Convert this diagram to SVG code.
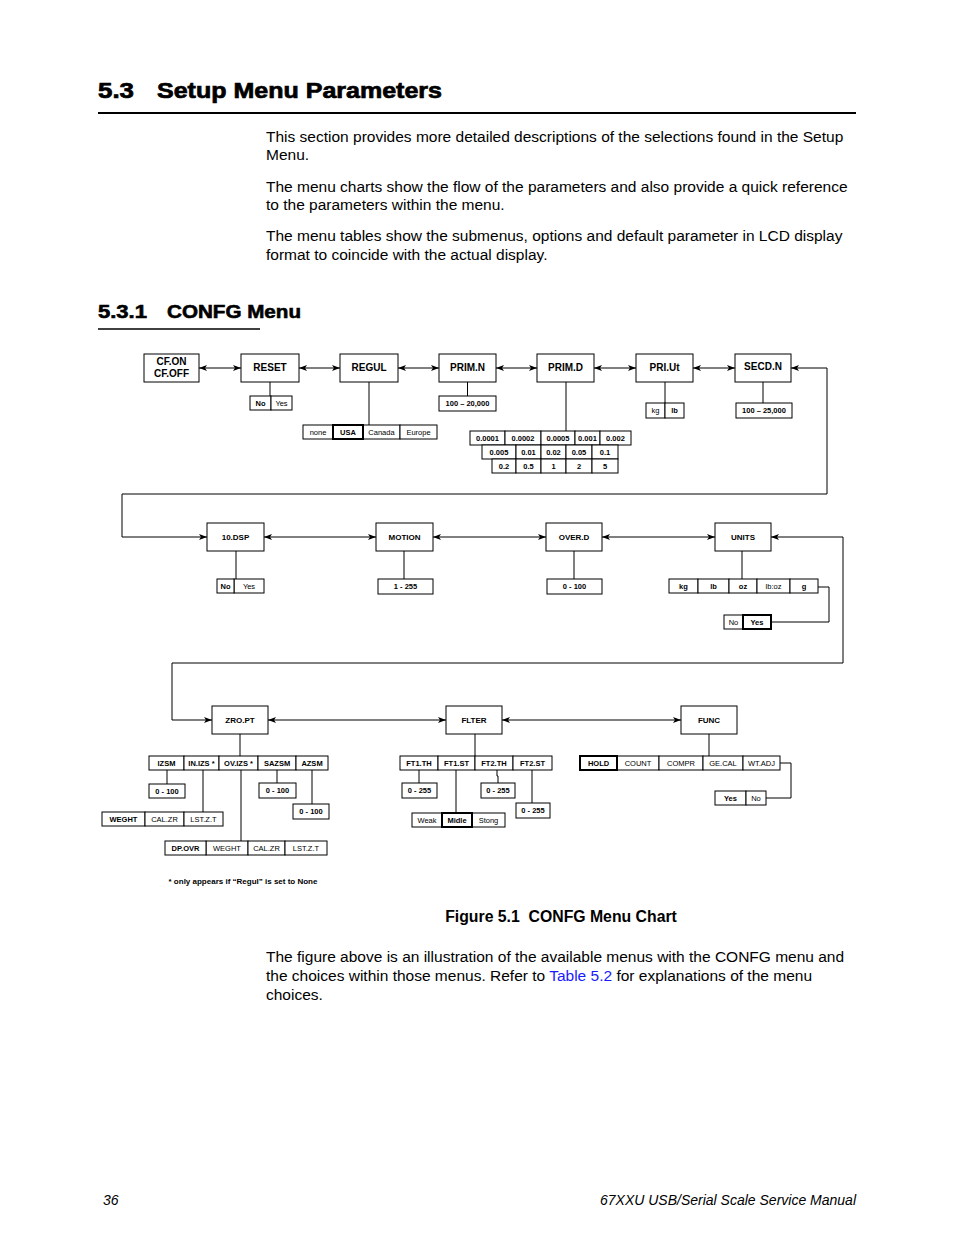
<svg xmlns="http://www.w3.org/2000/svg" width="954" height="1235" viewBox="0 0 954 1235">
<style>
text{font-family:"Liberation Sans",Arial,sans-serif;fill:#000}
.h1{font-size:22px;font-weight:bold;stroke:#000;stroke-width:0.7}
.h2{font-size:18.5px;font-weight:bold;stroke:#000;stroke-width:0.6}
.p{font-size:15.5px}
.cap{font-size:15.8px;font-weight:bold}
.ft{font-size:14px;font-style:italic}
.b{fill:#fff;stroke:#000;stroke-width:1}
.t{fill:#fff;stroke:#000;stroke-width:2}
.n1{font-size:10px;font-weight:bold;text-anchor:middle}
.n2{font-size:8px;font-weight:bold;text-anchor:middle}
.sb{font-size:7.5px;font-weight:bold;text-anchor:middle}
.sn{font-size:7.5px;text-anchor:middle}
.c{fill:none;stroke:#000;stroke-width:1}
.d{marker-start:url(#ah);marker-end:url(#ah)}
</style>
<defs>
<marker id="ah" viewBox="0 0 8 6" refX="8" refY="3" markerWidth="8" markerHeight="6" orient="auto-start-reverse" markerUnits="userSpaceOnUse"><path d="M0,0 L8,3 L0,6 L2,3 z" fill="#000"/></marker>
</defs>
<rect width="954" height="1235" fill="#fff"/>

<g id="page-text">
<text class="h1" x="98" y="98" textLength="36" lengthAdjust="spacingAndGlyphs">5.3</text>
<text class="h1" x="157" y="98" textLength="285" lengthAdjust="spacingAndGlyphs">Setup Menu Parameters</text>
<line x1="98" y1="113" x2="856" y2="113" stroke="#000" stroke-width="2"/>
<text class="p" x="266" y="142">This section provides more detailed descriptions of the selections found in the Setup</text>
<text class="p" x="266" y="160">Menu.</text>
<text class="p" x="266" y="192">The menu charts show the flow of the parameters and also provide a quick reference</text>
<text class="p" x="266" y="210">to the parameters within the menu.</text>
<text class="p" x="266" y="241">The menu tables show the submenus, options and default parameter in LCD display</text>
<text class="p" x="266" y="260">format to coincide with the actual display.</text>
<text class="h2" x="98" y="318" textLength="49" lengthAdjust="spacingAndGlyphs">5.3.1</text>
<text class="h2" x="167" y="318" textLength="134" lengthAdjust="spacingAndGlyphs">CONFG Menu</text>
<line x1="98" y1="329" x2="260" y2="329" stroke="#000" stroke-width="1.5"/>
<text class="cap" x="561" y="922" text-anchor="middle" xml:space="preserve">Figure 5.1  CONFG Menu Chart</text>
<text class="p" x="266" y="962">The figure above is an illustration of the available menus with the CONFG menu and</text>
<text class="p" x="266" y="981">the choices within those menus. Refer to <tspan fill="#1a1aff">Table 5.2</tspan> for explanations of the menu</text>
<text class="p" x="266" y="1000">choices.</text>
<text class="ft" x="103" y="1205">36</text>
<text class="ft" x="856" y="1205" text-anchor="end">67XXU USB/Serial Scale Service Manual</text>
<text x="243" y="884" text-anchor="middle" font-size="8px" font-weight="bold">* only appears if “Regul” is set to None</text>
</g>

<g id="connectors">
<path class="c d" d="M199,368 H241"/>
<path class="c d" d="M299,368 H340"/>
<path class="c d" d="M398,368 H439"/>
<path class="c d" d="M496,368 H537"/>
<path class="c d" d="M594,368 H636"/>
<path class="c d" d="M693,368 H735"/>
<path class="c d" d="M791,368 H827 V494 H122 V537 H207"/>
<path class="c" d="M270,382 V396 M369,382 V425 M467.5,382 V396 M566,382 V431 M665,382 V403 M763,382 V403"/>
<path class="c d" d="M264,537 H376"/>
<path class="c d" d="M433,537 H546"/>
<path class="c d" d="M602,537 H715"/>
<path class="c d" d="M771,537 H843 V663 H172 V720 H212"/>
<path class="c" d="M236,551 V579 M404,551 V579 M574,551 V579 M742,551 V579"/>
<path class="c" d="M818,587 H829 V622 H771"/>
<path class="c d" d="M268,720 H446"/>
<path class="c d" d="M502,720 H681"/>
<path class="c" d="M240,734 V756 M475,734 V756 M709,734 V756"/>
<path class="c" d="M167,770 V784 M203,770 V812 M241,770 V841 M277,770 V783 M312,770 V804"/>
<path class="c" d="M419,770 V783 M456,770 V813 M497,770 V776 H498 V783 M532,770 V803"/>
<path class="c" d="M780,763 H791 V798 H766"/>
</g>

<g id="node-cfon"><rect class="b" x="144" y="354" width="55" height="28"/><text class="n1" x="171.5" y="365">CF.ON</text><text class="n1" x="171.5" y="377">CF.OFF</text></g>
<g id="node-reset"><rect class="b" x="241" y="354" width="58" height="28"/><text class="n1" x="270" y="371">RESET</text></g>
<g id="node-regul"><rect class="b" x="340" y="354" width="58" height="28"/><text class="n1" x="369" y="371">REGUL</text></g>
<g id="node-primn"><rect class="b" x="439" y="354" width="57" height="28"/><text class="n1" x="467.5" y="371">PRIM.N</text></g>
<g id="node-primd"><rect class="b" x="537" y="354" width="57" height="28"/><text class="n1" x="565.5" y="371">PRIM.D</text></g>
<g id="node-priut"><rect class="b" x="636" y="354" width="57" height="28"/><text class="n1" x="664.5" y="371">PRI.Ut</text></g>
<g id="node-secdn"><rect class="b" x="735" y="354" width="56" height="28"/><text class="n1" x="763" y="370">SECD.N</text></g>

<g id="opt-reset">
<rect class="b" x="250" y="396" width="21" height="14"/><text class="sb" x="260.5" y="405.5">No</text>
<rect class="b" x="271" y="396" width="21" height="14"/><text class="sn" x="281.5" y="405.5">Yes</text>
</g>
<g id="opt-regul">
<rect class="b" x="303" y="425" width="30" height="14"/><text class="sn" x="318" y="434.5">none</text>
<rect class="b" x="363" y="425" width="37" height="14"/><text class="sn" x="381.5" y="434.5">Canada</text>
<rect class="b" x="400" y="425" width="37" height="14"/><text class="sn" x="418.5" y="434.5">Europe</text>
<rect class="t" x="333" y="425" width="30" height="14"/><text class="sb" x="348" y="434.5">USA</text>
</g>
<g id="opt-primn"><rect class="b" x="439" y="396" width="57" height="15"/><text class="sb" x="467.5" y="406">100 – 20,000</text></g>
<g id="opt-primd">
<rect class="b" x="470" y="431" width="35" height="14"/><text class="sb" x="487.5" y="440.5">0.0001</text>
<rect class="b" x="505" y="431" width="36" height="14"/><text class="sb" x="523" y="440.5">0.0002</text>
<rect class="b" x="541" y="431" width="34" height="14"/><text class="sb" x="558" y="440.5">0.0005</text>
<rect class="b" x="575" y="431" width="25" height="14"/><text class="sb" x="587.5" y="440.5">0.001</text>
<rect class="b" x="600" y="431" width="31" height="14"/><text class="sb" x="615.5" y="440.5">0.002</text>
<rect class="b" x="482" y="445" width="34" height="14"/><text class="sb" x="499" y="454.5">0.005</text>
<rect class="b" x="516" y="445" width="25" height="14"/><text class="sb" x="528.5" y="454.5">0.01</text>
<rect class="b" x="541" y="445" width="25" height="14"/><text class="sb" x="553.5" y="454.5">0.02</text>
<rect class="b" x="566" y="445" width="26" height="14"/><text class="sb" x="579" y="454.5">0.05</text>
<rect class="b" x="592" y="445" width="26" height="14"/><text class="sb" x="605" y="454.5">0.1</text>
<rect class="b" x="492" y="459" width="24" height="14"/><text class="sb" x="504" y="468.5">0.2</text>
<rect class="b" x="516" y="459" width="25" height="14"/><text class="sb" x="528.5" y="468.5">0.5</text>
<rect class="b" x="541" y="459" width="25" height="14"/><text class="sb" x="553.5" y="468.5">1</text>
<rect class="b" x="566" y="459" width="26" height="14"/><text class="sb" x="579" y="468.5">2</text>
<rect class="b" x="592" y="459" width="26" height="14"/><text class="sb" x="605" y="468.5">5</text>
</g>
<g id="opt-priut">
<rect class="b" x="646" y="403" width="19" height="15"/><text class="sn" x="655.5" y="413">kg</text>
<rect class="b" x="665" y="403" width="19" height="15"/><text class="sb" x="674.5" y="413">lb</text>
</g>
<g id="opt-secdn"><rect class="b" x="736" y="403" width="56" height="15"/><text class="sb" x="764" y="413">100 – 25,000</text></g>

<g id="node-10dsp"><rect class="b" x="207" y="523" width="57" height="28"/><text class="n2" x="235.5" y="540">10.DSP</text></g>
<g id="node-motion"><rect class="b" x="376" y="523" width="57" height="28"/><text class="n2" x="404.5" y="540">MOTION</text></g>
<g id="node-overd"><rect class="b" x="546" y="523" width="56" height="28"/><text class="n2" x="574" y="540">OVER.D</text></g>
<g id="node-units"><rect class="b" x="715" y="523" width="56" height="28"/><text class="n2" x="743" y="540">UNITS</text></g>

<g id="opt-10dsp">
<rect class="b" x="234" y="579" width="30" height="14"/><text class="sn" x="249" y="588.5">Yes</text>
<rect class="b" x="217" y="579" width="17" height="14" stroke-width="1.5"/><text class="sb" x="225.5" y="588.5">No</text>
</g>
<g id="opt-motion"><rect class="b" x="378" y="579" width="55" height="15"/><text class="sb" x="405.5" y="589">1 - 255</text></g>
<g id="opt-overd"><rect class="b" x="547" y="579" width="55" height="15"/><text class="sb" x="574.5" y="589">0 - 100</text></g>
<g id="opt-units">
<rect class="b" x="669" y="579" width="29" height="14" stroke-width="1.5"/><text class="sb" x="683.5" y="588.5">kg</text>
<rect class="b" x="698" y="579" width="31" height="14"/><text class="sb" x="713.5" y="588.5">lb</text>
<rect class="b" x="729" y="579" width="28" height="14"/><text class="sb" x="743" y="588.5">oz</text>
<rect class="b" x="757" y="579" width="33" height="14"/><text class="sn" x="773.5" y="588.5">lb:oz</text>
<rect class="b" x="790" y="579" width="28" height="14"/><text class="sb" x="804" y="588.5">g</text>
</g>
<g id="opt-g">
<rect class="b" x="724" y="615" width="19" height="14"/><text class="sn" x="733.5" y="624.5">No</text>
<rect class="t" x="743" y="615" width="28" height="14"/><text class="sb" x="757" y="624.5">Yes</text>
</g>

<g id="node-zropt"><rect class="b" x="212" y="706" width="56" height="28"/><text class="n2" x="240" y="723">ZRO.PT</text></g>
<g id="node-flter"><rect class="b" x="446" y="706" width="56" height="28"/><text class="n2" x="474" y="723">FLTER</text></g>
<g id="node-func"><rect class="b" x="681" y="706" width="56" height="28"/><text class="n2" x="709" y="723">FUNC</text></g>

<g id="opt-zropt">
<rect class="b" x="149" y="756" width="35" height="14"/><text class="sb" x="166.5" y="765.5">IZSM</text>
<rect class="b" x="184" y="756" width="35" height="14"/><text class="sb" x="201.5" y="765.5">IN.IZS *</text>
<rect class="b" x="219" y="756" width="39" height="14"/><text class="sb" x="238.5" y="765.5">OV.IZS *</text>
<rect class="b" x="258" y="756" width="38" height="14"/><text class="sb" x="277" y="765.5">SAZSM</text>
<rect class="b" x="296" y="756" width="32" height="14"/><text class="sb" x="312" y="765.5">AZSM</text>
<rect class="b" x="149" y="784" width="36" height="14"/><text class="sb" x="167" y="793.5">0 - 100</text>
<rect class="b" x="259" y="783" width="37" height="15"/><text class="sb" x="277.5" y="793">0 - 100</text>
<rect class="b" x="293" y="804" width="36" height="15"/><text class="sb" x="311" y="814">0 - 100</text>
<rect class="b" x="102" y="812" width="43" height="14"/><text class="sb" x="123.5" y="821.5">WEGHT</text>
<rect class="b" x="145" y="812" width="39" height="14"/><text class="sn" x="164.5" y="821.5">CAL.ZR</text>
<rect class="b" x="184" y="812" width="39" height="14"/><text class="sn" x="203.5" y="821.5">LST.Z.T</text>
<rect class="b" x="206" y="841" width="42" height="14"/><text class="sn" x="227" y="850.5">WEGHT</text>
<rect class="b" x="248" y="841" width="37" height="14"/><text class="sn" x="266.5" y="850.5">CAL.ZR</text>
<rect class="b" x="285" y="841" width="42" height="14"/><text class="sn" x="306" y="850.5">LST.Z.T</text>
<rect class="b" x="165" y="841" width="41" height="14" stroke-width="1.6"/><text class="sb" x="185.5" y="850.5">DP.OVR</text>
</g>

<g id="opt-flter">
<rect class="b" x="400" y="756" width="38" height="14"/><text class="sb" x="419" y="765.5">FT1.TH</text>
<rect class="b" x="438" y="756" width="37" height="14"/><text class="sb" x="456.5" y="765.5">FT1.ST</text>
<rect class="b" x="475" y="756" width="38" height="14"/><text class="sb" x="494" y="765.5">FT2.TH</text>
<rect class="b" x="513" y="756" width="39" height="14"/><text class="sb" x="532.5" y="765.5">FT2.ST</text>
<rect class="b" x="402" y="783" width="35" height="15"/><text class="sb" x="419.5" y="793">0 - 255</text>
<rect class="b" x="481" y="783" width="34" height="15"/><text class="sb" x="498" y="793">0 - 255</text>
<rect class="b" x="516" y="803" width="34" height="15"/><text class="sb" x="533" y="813">0 - 255</text>
<rect class="b" x="412" y="813" width="30" height="14"/><text class="sn" x="427" y="822.5">Weak</text>
<rect class="b" x="472" y="813" width="33" height="14"/><text class="sn" x="488.5" y="822.5">Stong</text>
<rect class="t" x="442" y="813" width="30" height="14"/><text class="sb" x="457" y="822.5">Midle</text>
</g>

<g id="opt-func">
<rect class="b" x="617" y="756" width="42" height="14"/><text class="sn" x="638" y="765.5">COUNT</text>
<rect class="b" x="659" y="756" width="44" height="14"/><text class="sn" x="681" y="765.5">COMPR</text>
<rect class="b" x="703" y="756" width="40" height="14"/><text class="sn" x="723" y="765.5">GE.CAL</text>
<rect class="b" x="743" y="756" width="37" height="14"/><text class="sn" x="761.5" y="765.5">WT.ADJ</text>
<rect class="t" x="580" y="756" width="37" height="14"/><text class="sb" x="598.5" y="765.5">HOLD</text>
<rect class="b" x="715" y="791" width="31" height="14"/><text class="sb" x="730.5" y="800.5">Yes</text>
<rect class="b" x="746" y="791" width="20" height="14"/><text class="sn" x="756" y="800.5">No</text>
</g>
</svg>
